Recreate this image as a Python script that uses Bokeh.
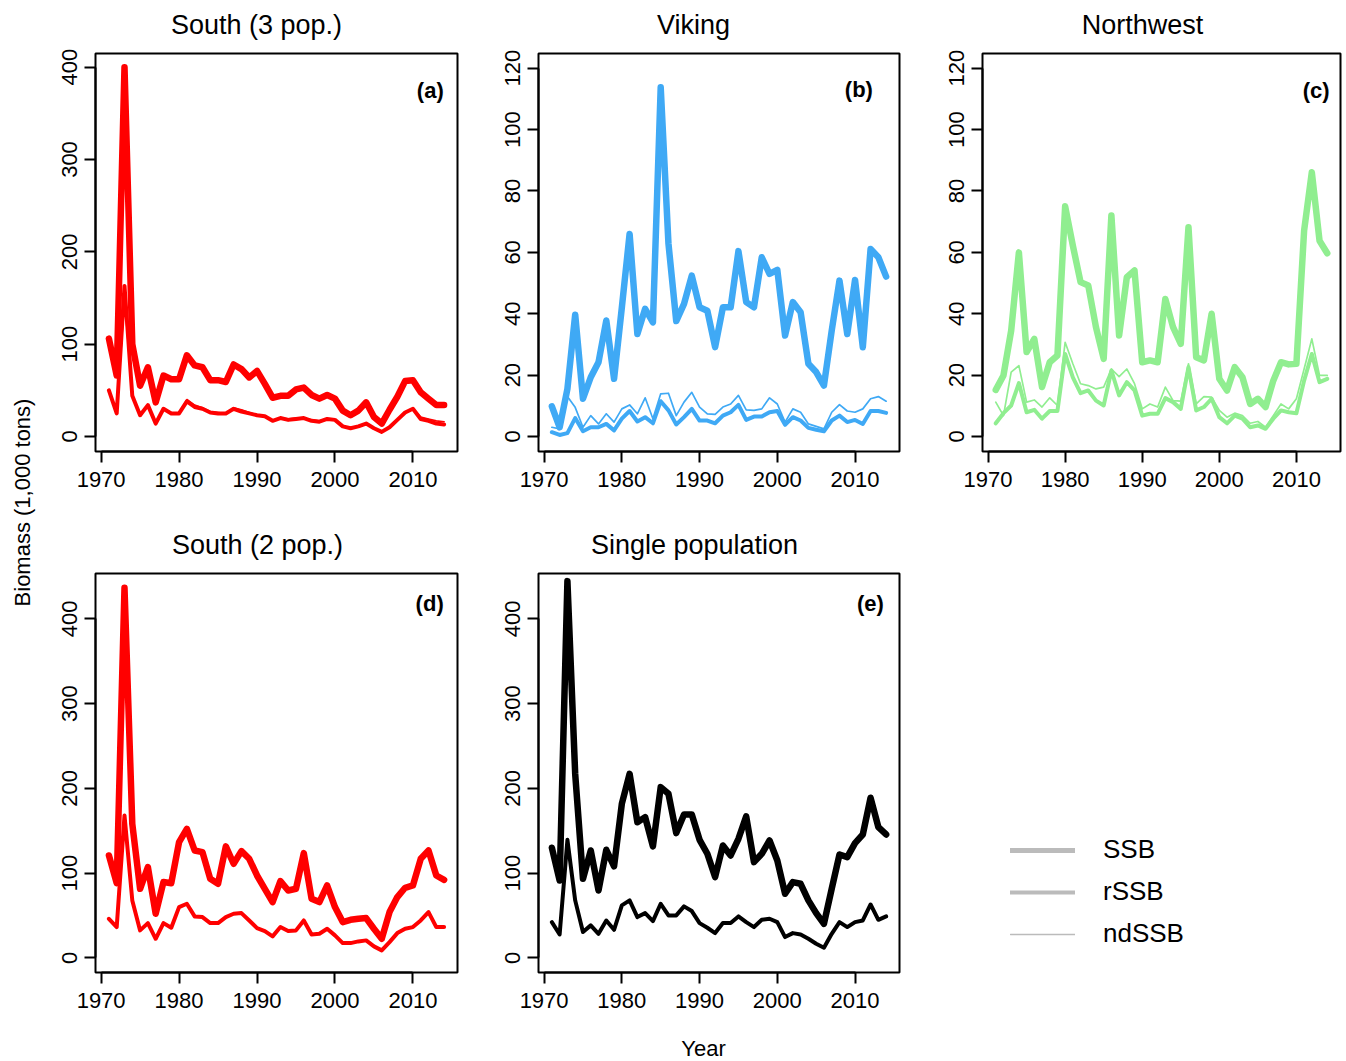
import math
from bokeh.plotting import figure
from bokeh.layouts import row, column
from bokeh.models import Range1d, FixedTicker, Label, Legend, LegendItem
from bokeh.embed import file_html
from bokeh.resources import INLINE

FONT = "Liberation Sans"

years = list(range(1971, 2015))
x_ticks = [1970, 1980, 1990, 2000, 2010]

# ---- (a) South (3 pop.)
south3_ssb = [106, 66, 400, 100, 55, 75, 37, 66, 62, 62,
              88, 77, 75, 61, 61, 59, 78, 73, 64, 71,
              57, 42, 44, 44, 51, 53, 45, 41, 45, 41,
              28, 23, 28, 37, 21, 14, 29, 43, 60, 61,
              48, 41, 34, 34]
south3_rssb = [50, 25, 163, 44, 23, 34, 14, 30, 25, 25,
               38, 32, 30, 26, 25, 25, 30, 27, 25, 23,
               22, 17, 20, 18, 19, 20, 17, 16, 19, 18,
               11, 9, 11, 14, 9, 5, 10, 18, 26, 30,
               19, 17, 14, 13]
south3_nd = [50, 25, 150, 45, 23, 34, 14, 30, 26, 25,
             40, 34, 31, 27, 26, 25, 31, 29, 26, 23,
             22, 17, 20, 19, 20, 20, 18, 17, 19, 18,
             11, 9, 11, 14, 9, 5, 10, 18, 26, 30,
             21, 19, 17, 16]

# ---- (b) Viking
viking_ssb = [9.8, 3, 15.5, 39.7, 12.3, 19.3, 24.2, 37.8, 18.8, 42,
              66, 33.4, 41.6, 37.2, 113.8, 62.8, 37.6, 43.2, 52.4, 42.1,
              41, 29.1, 42.1, 42.1, 60.4, 43.8, 42.1, 58.4, 53, 54.3,
              32.9, 43.8, 40.5, 23.7, 21, 16.6, 34.5, 50.8, 33.4, 51,
              29.1, 61.1, 58.4, 52.1]
viking_rssb = [1.4, 0.5, 1.1, 6, 1.7, 3, 3, 4.1, 2, 5.8,
               8.3, 4.9, 6.3, 4.3, 11.5, 8.5, 3.9, 6.3, 9, 5.2,
               5.2, 4.3, 6.8, 7.9, 10.3, 5.4, 6.5, 6.5, 7.9, 8.3,
               3.8, 6.3, 5.2, 2.8, 2.2, 1.7, 5.2, 6.8, 4.7, 5.4,
               4.1, 8.3, 8.3, 7.7]
viking_nd = [3, 2.5, 13, 9.5, 3, 6.8, 4.1, 7.4, 4.7, 9,
             10.3, 7.4, 12.6, 5.8, 13.9, 14.1, 6.8, 11.2, 14.4, 9.6,
             7.4, 7.2, 9.6, 10.6, 13.4, 8.7, 8.5, 9, 12.6, 10.6,
             4.7, 9, 7.9, 4.1, 3.3, 2.5, 7.9, 10.4, 8.3, 7.9,
             9, 12.3, 13, 11.5]

# ---- (c) Northwest
nw_ssb = [15.2, 19.9, 34.5, 60, 27.5, 31.8, 16.1, 24.2, 26.4, 75,
          62.2, 50.3, 49.2, 35.6, 25.3, 72, 32.9, 51.9, 54.1, 24.2,
          24.8, 24.2, 44.8, 35.6, 30.2, 68.2, 25.8, 24.8, 40, 18.8,
          15, 22.6, 19.3, 10.6, 12.3, 9.6, 18.2, 24.2, 23.5, 23.7,
          67.1, 86.1, 63.8, 59.7]
nw_rssb = [4.3, 7.6, 10.1, 17.4, 7.9, 8.7, 5.8, 8.3, 8.3, 26.9,
           19.3, 14.1, 15, 11.7, 10.1, 21.5, 13.4, 17.7, 15, 6.8,
           7.4, 7.4, 12.5, 11.2, 9, 22.6, 8.5, 9.6, 12.3, 6.3,
           4.3, 6.8, 5.8, 3, 3.6, 2.5, 5.8, 8.5, 7.9, 7.6,
           18.2, 26.9, 17.7, 18.8]
nw_nd = [11.2, 6.8, 21, 23.1, 11.2, 11.9, 9.6, 12.6, 10.1, 30.7,
         23.7, 17.2, 16.6, 15.5, 16.1, 22, 19.5, 22, 17.2, 9,
         10.6, 9.6, 16.1, 11.7, 11.5, 23.7, 10.6, 13, 12.8, 8.5,
         6.3, 7.6, 6.8, 4.3, 4.9, 3, 6.8, 10.6, 9, 12.3,
         22, 31.8, 19.9, 19.9]

# ---- (d) South (2 pop.)
south2_ssb = [120.7, 88, 436.6, 158, 81.4, 107, 52, 89.3, 88, 136.5,
              152.2, 126.6, 124.7, 93.2, 87.3, 131.4, 110.9, 125.9, 116.8, 97.1,
              81.4, 65.7, 90.5, 79.4, 81.4, 123.5, 69.6, 65.7, 85.3, 59.8,
              42.1, 44.8, 46, 46.8, 34.2, 22.4, 53.9, 71.6, 82.6, 85.3,
              116.8, 126.6, 97.1, 92]
south2_rssb = [46, 36.2, 168, 67.7, 32.3, 40.9, 22.4, 40.9, 35.4, 59.8,
               63.7, 48.8, 48, 40.9, 40.9, 48, 51.9, 52.7, 44, 35,
               31.5, 25.2, 36.2, 31.5, 32.3, 44, 27.5, 28.3, 34.2, 26.4,
               17.3, 17.3, 19.3, 20.5, 13.4, 8.7, 18.5, 29.1, 34.2, 36.2,
               44, 53.9, 36.2, 36.2]
south2_nd = [46, 36, 165, 68, 32, 41, 22, 41, 35, 60,
             64, 49, 48, 41, 41, 48, 52, 53, 44, 35,
             31.5, 25, 36, 31.5, 32, 44, 27.5, 28, 34, 26.5,
             17.5, 17.5, 19, 20.5, 13.5, 8.7, 18.5, 29, 34, 36,
             44, 54, 36.5, 36.5]

# ---- (e) Single population
single_ssb = [129.8, 91.2, 444.5, 217, 93.2, 126.6, 79.4, 127.4, 107.8, 181.7,
              217, 160, 166, 131.4, 201.4, 193.5, 147.1, 169.1, 169.1, 139.2,
              122.7, 95.2, 132.5, 120.7, 140.4, 166.8, 112.9, 122.7, 138.4, 114.8,
              75.5, 89.3, 87.3, 67.7, 52.7, 40.1, 81.4, 121.9, 118.8, 135.3,
              145.5, 188.8, 154.2, 145.5]
single_rssb = [42, 27.5, 139.2, 67.7, 30.3, 38.2, 28.3, 44, 33, 61.8,
               67.7, 48, 52.7, 43.3, 63.7, 50, 50, 60.6, 55.1, 40.9,
               35.4, 29.1, 40.9, 40.9, 48.8, 42, 36.2, 44.8, 46, 42,
               24.4, 29.1, 27.5, 22.4, 16.5, 11.8, 28.3, 42, 36.2, 42,
               44, 62.9, 44.8, 48.8]
single_nd = [42, 27.5, 139.2, 67.7, 30.3, 38.2, 28.3, 44, 33, 61.8,
             67.7, 48, 52.7, 43.3, 63.7, 50, 50, 60.6, 55.1, 40.9,
             35.4, 29.1, 40.9, 40.9, 48.8, 42, 36.2, 44.8, 46, 42,
             24.4, 29.1, 27.5, 22.4, 16.5, 11.8, 28.3, 42, 36.2, 42,
             44, 62.9, 44.8, 48.8]

y_ticks_400 = [0, 100, 200, 300, 400]
y_ticks_120 = [0, 20, 40, 60, 80, 100, 120]

series_names = ["SSB", "rSSB", "ndSSB"]
titles_top = ["South (3 pop.)", "Viking", "Northwest"]
titles_bottom = ["South (2 pop.)", "Single population"]

RED = "#FF0000"
BLUE = "#3FA9F5"
GREEN = "#90EE90"
BLACK = "#000000"
LEGEND_GREY = "#BBBBBB"


def blank(width, height):
    f = figure(width=width, height=height, x_range=Range1d(0, 1), y_range=Range1d(0, 1),
               output_backend="svg", toolbar_location=None,
               x_axis_location=None, y_axis_location=None, min_border=0)
    f.outline_line_color = None
    f.grid.visible = False
    return f


def panel(tag, ssb, rssb, nd, color, y_range, y_ticks, tag_x, tag_y,
          width, height, bl, br, bt, bb):
    p = figure(width=width, height=height,
               x_range=Range1d(1969.28, 2015.72), y_range=Range1d(*y_range),
               output_backend="svg", toolbar_location=None,
               min_border_left=bl, min_border_right=br,
               min_border_top=bt, min_border_bottom=bb)
    p.grid.visible = False
    p.background_fill_color = "white"
    p.border_fill_color = "white"
    p.outline_line_color = "black"
    p.outline_line_width = 2
    p.outline_line_alpha = 1

    p.xaxis.ticker = FixedTicker(ticks=x_ticks)
    p.xaxis.bounds = (x_ticks[0], x_ticks[-1])
    p.yaxis.ticker = FixedTicker(ticks=y_ticks)
    p.yaxis.bounds = (y_ticks[0], y_ticks[-1])
    p.yaxis.major_label_orientation = "vertical"
    for ax in (p.xaxis, p.yaxis):
        ax.axis_line_width = 2
        ax.axis_line_color = "black"
        ax.major_tick_line_width = 2
        ax.major_tick_line_color = "black"
        ax.major_tick_out = 11
        ax.major_tick_in = 0
        ax.minor_tick_line_color = None
        ax.major_label_text_font = FONT
        ax.major_label_text_font_size = "22px"
        ax.major_label_text_color = "black"
    p.xaxis.major_label_standoff = 9
    p.yaxis.major_label_standoff = 7

    kw = dict(color=color, line_join="round", line_cap="round")
    p.line(years, ssb, line_width=6.5, **kw)
    p.line(years, rssb, line_width=4, **kw)
    p.line(years, nd, line_width=1.7, **kw)

    p.add_layout(Label(x=tag_x, y=tag_y, text=tag, text_align="right",
                       text_baseline="middle", text_font=FONT,
                       text_font_size="22px", text_font_style="bold",
                       text_color="black"))
    return p


def title_strip(titles, centers):
    s = blank(1301, 45)
    for t, cx in zip(titles, centers):
        s.add_layout(Label(x=cx - 45, y=21, x_units="screen", y_units="screen",
                           text=t, text_align="center", text_baseline="middle",
                           text_font=FONT, text_font_size="27px", text_color="black"))
    return s


R400a = (-16.25, 414.8)
R120 = (-4.89, 124.8)
R400d = (-17.4, 453.5)

pa = panel("(a)", south3_ssb, south3_rssb, south3_nd, RED,
           R400a, y_ticks_400, 2013.95, 374.8, 431, 475, 50, 19, 8, 69)
pb = panel("(b)", viking_ssb, viking_rssb, viking_nd, BLUE,
           R120, y_ticks_120, 2012.3, 113.0, 444, 475, 62, 21, 8, 69)
pc = panel("(c)", nw_ssb, nw_rssb, nw_nd, GREEN,
           R120, y_ticks_120, 2014.3, 112.7, 426, 475, 62, 6, 8, 69)
pd = panel("(d)", south2_ssb, south2_rssb, south2_nd, RED,
           R400d, y_ticks_400, 2013.95, 417.7, 431, 466, 50, 19, 8, 59)
pe = panel("(e)", single_ssb, single_rssb, single_nd, BLACK,
           R400d, y_ticks_400, 2013.7, 418.0, 444, 466, 62, 21, 8, 59)

top_titles = title_strip(titles_top, [256, 693, 1142])
bottom_titles = title_strip(titles_bottom, [257, 694])

# legend panel
pl = blank(426, 466)
# key renderers lie outside the visible range; only their legend glyphs show
r1 = pl.line(x=[5, 6], y=[5, 5], color=LEGEND_GREY, line_width=5, line_cap="round")
r2 = pl.line(x=[5, 6], y=[5, 5], color=LEGEND_GREY, line_width=4, line_cap="round")
r3 = pl.line(x=[5, 6], y=[5, 5], color=LEGEND_GREY, line_width=1.5, line_cap="round")
legend = Legend(items=[LegendItem(label=series_names[0], renderers=[r1]),
                       LegendItem(label=series_names[1], renderers=[r2]),
                       LegendItem(label=series_names[2], renderers=[r3])],
                location=(90, 23), orientation="vertical",
                glyph_width=65, glyph_height=30, label_height=30,
                spacing=11, label_standoff=28, padding=0, margin=0,
                label_text_font=FONT, label_text_font_size="26px",
                label_text_color="black",
                border_line_color=None, background_fill_alpha=0)
pl.add_layout(legend)

# left strip with y label
ps = blank(45, 1061)
ps.add_layout(Label(x=22, y=1061 - 502, x_units="screen", y_units="screen",
                    text="Biomass (1,000 tons)", angle=math.pi / 2,
                    text_align="center", text_baseline="middle",
                    text_font=FONT, text_font_size="22px", text_color="black"))

# bottom strip with x label
pbx = blank(1301, 30)
pbx.add_layout(Label(x=703 - 45, y=13, x_units="screen", y_units="screen",
                     text="Year", text_align="center", text_baseline="middle",
                     text_font=FONT, text_font_size="22px", text_color="black"))

layout = row(ps, column(top_titles, row(pa, pb, pc),
                        bottom_titles, row(pd, pe, pl), pbx))

open("out.html", "w").write(file_html(layout, INLINE))
